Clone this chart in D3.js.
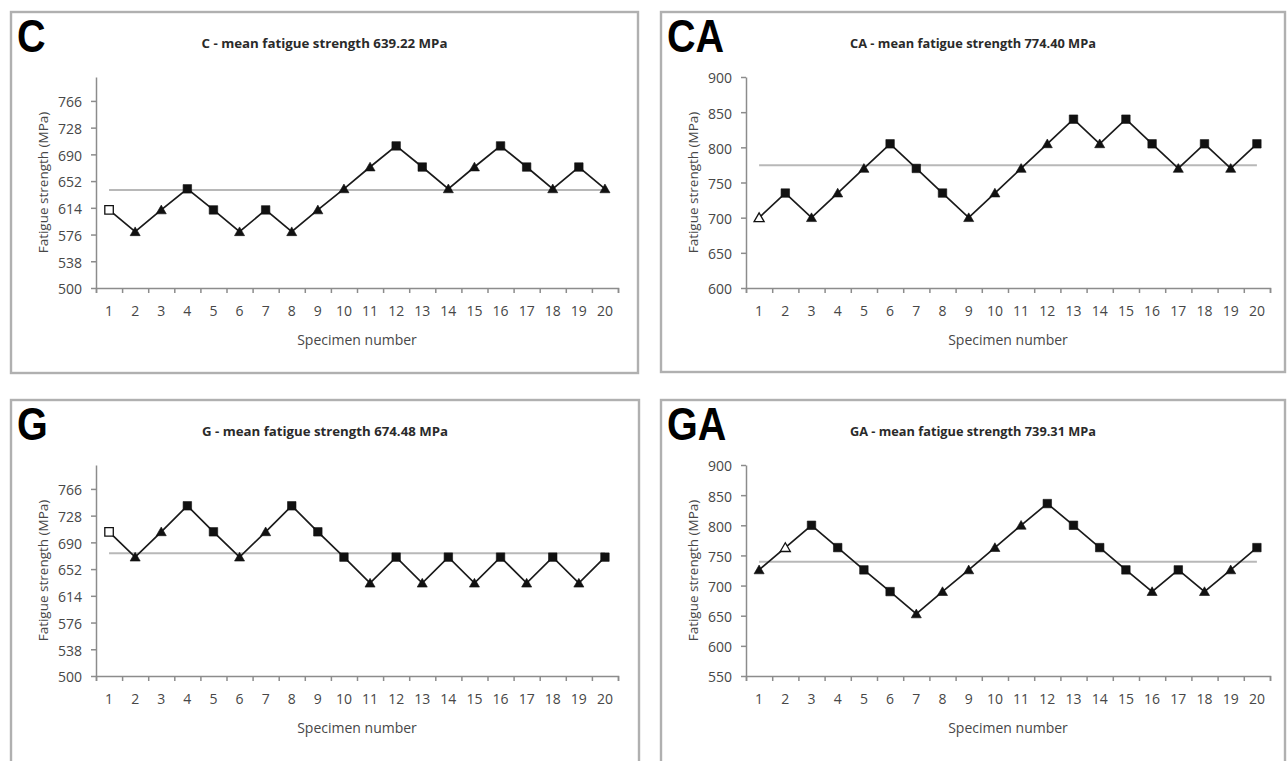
<!DOCTYPE html>
<html>
<head>
<meta charset="utf-8">
<script src="https://cdn.jsdelivr.net/npm/d3@7"></script>
<style>
  body { margin: 0; background: #fff; }
  svg { display: block; }
</style>
</head>
<body>
<svg width="1287" height="761"></svg>
<script>
// specimen numbers (x categories)
const specimens = [1,2,3,4,5,6,7,8,9,10,11,12,13,14,15,16,17,18,19,20];

// fatigue strength per specimen (MPa)
const cValues  = [611,580,611,641,611,580,611,580,611,641,672,702,672,641,672,702,672,641,672,641];
const caValues = [700,735,700,735,770,805,770,735,700,735,770,805,840,805,840,805,770,805,770,805];
const gValues  = [705,669,705,742,705,669,705,742,705,669,632,669,632,669,632,669,632,669,632,669];
const gaValues = [726,763,800,763,726,690,653,690,726,763,800,836,800,763,726,690,726,690,726,763];

// marker per specimen: s = failed (square), t = survived (triangle), os / ot = open
const cMarkers  = ["os","t","t","s","s","t","s","t","t","t","t","s","s","t","t","s","s","t","s","t"];
const caMarkers = ["ot","s","t","t","t","s","s","s","t","t","t","t","s","t","s","s","t","s","t","s"];
const gMarkers  = ["os","t","t","s","s","t","t","s","s","s","t","s","t","s","t","s","t","s","t","s"];
const gaMarkers = ["t","ot","s","s","s","s","t","t","t","t","t","s","s","s","s","t","s","t","t","s"];

// mean fatigue strength
const means = {C: 639.22, CA: 774.40, G: 674.48, GA: 739.31};

// y axis ticks
const cTicks  = [500,538,576,614,652,690,728,766];
const caTicks = [600,650,700,750,800,850,900];
const gTicks  = [500,538,576,614,652,690,728,766];
const gaTicks = [550,600,650,700,750,800,850,900];

const panels = [
  {id: "C",  x: 11,  y: 12,  w: 627, h: 361, plotW: 522, values: cValues,  markers: cMarkers,  yDomain: [500, 800], yTicks: cTicks},
  {id: "CA", x: 661, y: 12,  w: 624, h: 360, plotW: 524, values: caValues, markers: caMarkers, yDomain: [600, 900], yTicks: caTicks},
  {id: "G",  x: 11,  y: 400, w: 628, h: 380, plotW: 522, values: gValues,  markers: gMarkers,  yDomain: [500, 800], yTicks: gTicks},
  {id: "GA", x: 661, y: 400, w: 624, h: 380, plotW: 524, values: gaValues, markers: gaMarkers, yDomain: [550, 900], yTicks: gaTicks}
];

const svg = d3.select("svg");

const square = d3.symbol().type(d3.symbolSquare).size(72);
const triangle = d3.symbol().type(d3.symbolTriangle).size(44);

function drawPanel(p) {
  const g = svg.append("g");

  g.append("rect")
    .attr("x", p.x).attr("y", p.y)
    .attr("width", p.w).attr("height", p.h)
    .attr("fill", "none")
    .attr("stroke", "#b0b0b0")
    .attr("stroke-width", 2.4);

  const left = p.x + 85, right = left + p.plotW;
  const top = p.y + 65, bottom = p.y + 276;

  const x = d3.scaleBand().domain(specimens).range([left, right]);
  const xEdges = d3.scaleLinear().domain([0, specimens.length]).range([left, right]);
  const y = d3.scaleLinear().domain(p.yDomain).range([bottom, top]);

  // big panel letter
  g.append("text")
    .attr("transform", `translate(${p.x + 6},${p.y + 40}) scale(0.86,1)`)
    .attr("font-family", "Liberation Sans, Arial, sans-serif")
    .attr("font-weight", "bold")
    .attr("font-size", 46)
    .attr("fill", "#000")
    .text(p.id);

  // chart title
  g.append("text")
    .attr("x", p.x + p.w / 2)
    .attr("y", p.y + 36)
    .attr("text-anchor", "middle")
    .attr("font-family", "Open Sans, sans-serif")
    .attr("font-weight", "bold")
    .attr("font-size", 12.5)
    .attr("fill", "#2a2a2a")
    .attr("textLength", 246)
    .attr("lengthAdjust", "spacingAndGlyphs")
    .text(`${p.id} - mean fatigue strength ${means[p.id].toFixed(2)} MPa`);

  // y axis
  const yAxis = g.append("g")
    .attr("transform", `translate(${left},0)`)
    .call(d3.axisLeft(y).tickValues(p.yTicks).tickSize(5).tickSizeOuter(0).tickPadding(9));
  yAxis.selectAll("text").attr("dy", "0.42em");

  // x axis: edge ticks + centred labels
  g.append("g")
    .attr("transform", `translate(0,${bottom})`)
    .call(d3.axisBottom(xEdges).ticks(specimens.length).tickSize(5).tickSizeOuter(5).tickFormat(""));
  const xLabels = g.append("g")
    .attr("transform", `translate(0,${bottom})`)
    .call(d3.axisBottom(x).tickSize(0).tickPadding(18));
  xLabels.select(".domain").remove();

  g.selectAll(".tick text")
    .attr("font-family", "Open Sans, sans-serif")
    .attr("font-size", 14)
    .attr("fill", "#474747");

  g.selectAll(".domain, .tick line")
    .attr("stroke", "#8c8c8c")
    .attr("stroke-width", 1.5);

  // axis titles
  g.append("text")
    .attr("transform", `translate(${p.x + 37},${(top + bottom) / 2}) rotate(-90)`)
    .attr("text-anchor", "middle")
    .attr("font-family", "Open Sans, sans-serif")
    .attr("font-size", 13.5)
    .attr("fill", "#474747")
    .text("Fatigue strength (MPa)");

  g.append("text")
    .attr("x", (left + right) / 2)
    .attr("y", p.y + 333)
    .attr("text-anchor", "middle")
    .attr("font-family", "Open Sans, sans-serif")
    .attr("font-size", 14)
    .attr("fill", "#474747")
    .text("Specimen number");

  // mean line
  const cx = d => x(d) + x.bandwidth() / 2;
  g.append("line")
    .attr("x1", cx(specimens[0]))
    .attr("x2", cx(specimens[specimens.length - 1]))
    .attr("y1", y(means[p.id]))
    .attr("y2", y(means[p.id]))
    .attr("stroke", "#b8b8b8")
    .attr("stroke-width", 2);

  // data line
  const pts = specimens.map((s, i) => ({s: s, v: p.values[i], m: p.markers[i]}));
  g.append("path")
    .datum(pts)
    .attr("fill", "none")
    .attr("stroke", "#1a1a1a")
    .attr("stroke-width", 1.7)
    .attr("d", d3.line().x(d => cx(d.s)).y(d => y(d.v)));

  g.selectAll(".marker")
    .data(pts)
    .enter()
    .append("path")
    .attr("class", "marker")
    .attr("transform", d => `translate(${cx(d.s)},${y(d.v) + (d.m.endsWith("t") ? 1 : 0)})`)
    .attr("d", d => d.m.endsWith("s") ? square() : triangle())
    .attr("fill", d => d.m.startsWith("o") ? "#fff" : "#111")
    .attr("stroke", "#111")
    .attr("stroke-width", d => d.m.startsWith("o") ? 1.3 : 0.6);
}

panels.forEach(drawPanel);
</script>
</body>
</html>
